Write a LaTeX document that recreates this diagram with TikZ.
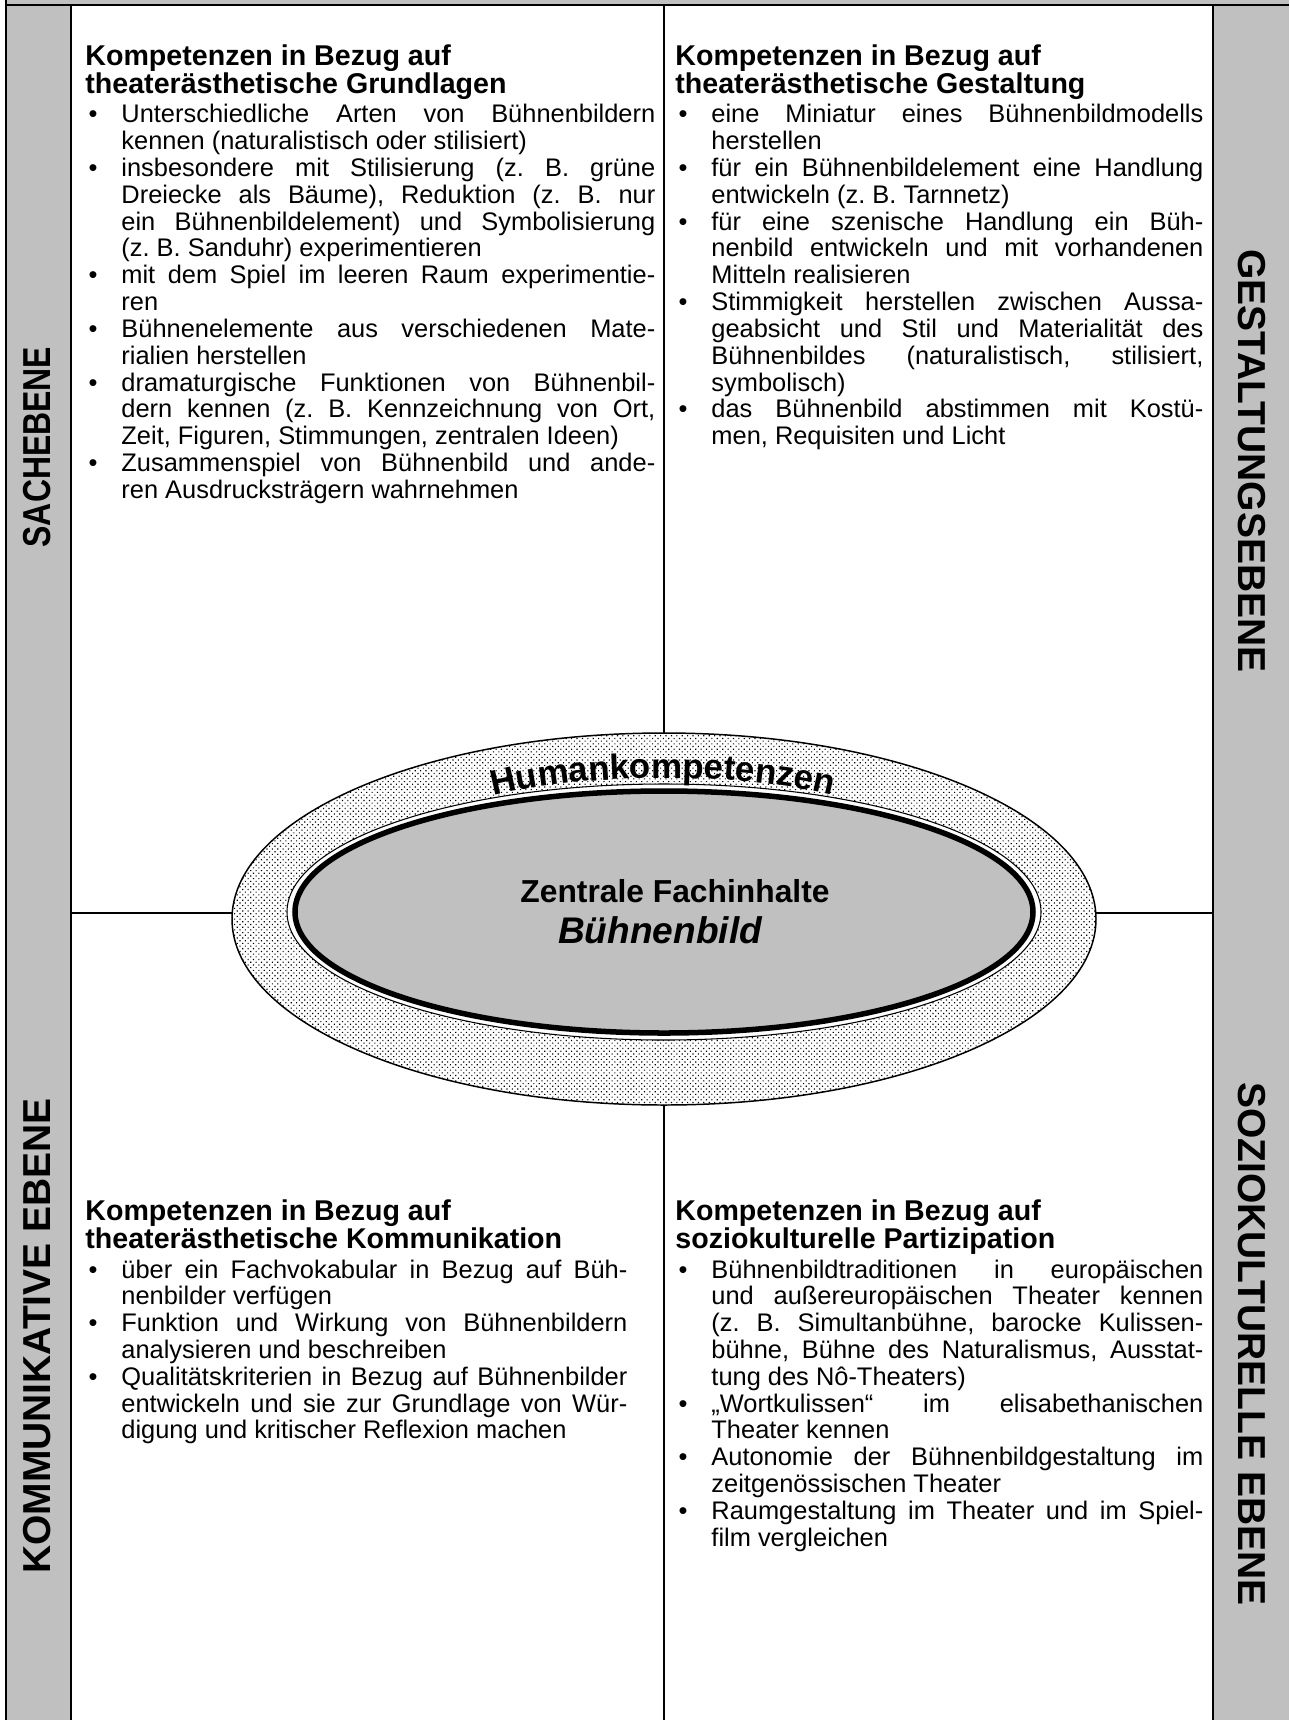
\documentclass[tikz,border=0pt]{standalone}
\usepackage{fontspec}
\setmainfont{Liberation Sans}
\usepackage{xcolor}
\usepackage{tikz}
\usetikzlibrary{positioning}
\usetikzlibrary{patterns.meta,decorations.text}
\definecolor{zellgrau}{RGB}{192,192,192}
\setlength{\parindent}{0pt}
\frenchspacing
\newlength{\einzug}\setlength{\einzug}{17pt}
\newcommand{\pkt}[1]{\par\noindent\hangindent=\einzug\hangafter=1%
  \makebox[\einzug][l]{\hspace{1.5pt}\textbullet}#1\par}
\newcommand{\kopf}[2]{{\fontsize{13.5}{13.45}\selectfont\bfseries #1\\#2\par}\vspace{1.2pt}}
\tikzset{
  feld/.style = {anchor=north west, inner sep=0pt, align=justify,
    font=\fontsize{12}{12.65}\selectfont},% Kompetenzfeld
  ebene/.style = {inner sep=0pt, font=\fontsize{18.4}{18.4}\selectfont\bfseries},
  ebene_l/.style = {ebene, rotate=90},% Ebene, linke Spalte
  ebene_r/.style = {ebene, rotate=-90},% Ebene, rechte Spalte
  rahmen/.style = {line width=1pt},
  trenn/.style = {line width=0.8pt},
  ring/.style = {draw=black, line width=0.7pt, preaction={fill=white},
    pattern={Dots[radius=0.38pt, distance=1.8pt, angle=45]}},% Humankompetenzen
  kern_rand/.style = {draw=black, line width=0.5pt, fill=white},
  kern/.style = {draw=black, line width=2.6pt, fill=zellgrau}% Fachinhalte
}

\begin{document}
\begin{tikzpicture}[x=0.472pt, y=0.472pt]
\useasboundingbox (0,0) rectangle (1289,-1720);

% Tabelle
\fill[zellgrau] (6,0) rectangle (1289,-5);
\fill[zellgrau] (6,-5) rectangle (71,-1720);
\fill[zellgrau] (1213,-5) rectangle (1289,-1720);
\draw[rahmen] (6,0) -- (6,-1720);
\draw[rahmen] (6,-5) -- (1289,-5);
\draw[trenn] (71,-5) -- (71,-1720);
\draw[trenn] (1213,-5) -- (1213,-1720);
\draw[trenn] (664,-5) -- (664,-1720);
\draw[trenn] (71,-913) -- (1213,-913);

\node[ebene_l] (sache) at (37,-447) {\scalebox{0.82}[1]{SACHEBENE}};
\node[ebene_l] (kommunikation) at (37,-1336) {KOMMUNIKATIVE EBENE};
\node[ebene_r] (gestaltung) at (1252,-461) {GESTALTUNGSEBENE};
\node[ebene_r] (sozio) at (1252,-1344) {SOZIOKULTURELLE EBENE};

\node[feld, text width=269pt] (grundlagen) at (85,-44) {%
  \kopf{Kompetenzen in Bezug auf}{theaterästhetische Grundlagen}
  \pkt{Unterschiedliche Arten von Bühnenbildern\linebreak kennen (naturalistisch oder stilisiert)}
  \pkt{insbesondere mit Stilisierung (z. B. grüne\linebreak Dreiecke als Bäume), Reduktion (z. B. nur\linebreak ein Bühnenbildelement) und Symbolisierung\linebreak (z. B. Sanduhr) experimentieren}
  \pkt{mit dem Spiel im leeren Raum experimentie-\linebreak ren}
  \pkt{Bühnenelemente aus verschiedenen Mate-\linebreak rialien herstellen}
  \pkt{dramaturgische Funktionen von Bühnenbil-\linebreak dern kennen (z. B. Kennzeichnung von Ort,\linebreak Zeit, Figuren, Stimmungen, zentralen Ideen)}
  \pkt{Zusammenspiel von Bühnenbild und ande-\linebreak ren Ausdrucksträgern wahrnehmen}};

\node[feld, text width=249.2pt] (gestaltfeld) at (675,-44) {%
  \kopf{Kompetenzen in Bezug auf}{theaterästhetische Gestaltung}
  \pkt{eine Miniatur eines Bühnenbildmodells\linebreak herstellen}
  \pkt{für ein Bühnenbildelement eine Handlung\linebreak entwickeln (z. B. Tarnnetz)}
  \pkt{für eine szenische Handlung ein Büh-\linebreak nenbild entwickeln und mit vorhandenen\linebreak Mitteln realisieren}
  \pkt{Stimmigkeit herstellen zwischen Aussa-\linebreak geabsicht und Stil und Materialität des\linebreak Bühnenbildes (naturalistisch, stilisiert,\linebreak symbolisch)}
  \pkt{das Bühnenbild abstimmen mit Kostü-\linebreak men, Requisiten und Licht}};

\node[feld, text width=255.8pt] (kommfeld) at (85,-1199) {%
  \kopf{Kompetenzen in Bezug auf}{theaterästhetische Kommunikation}
  \pkt{über ein Fachvokabular in Bezug auf Büh-\linebreak nenbilder verfügen}
  \pkt{Funktion und Wirkung von Bühnenbildern\linebreak analysieren und beschreiben}
  \pkt{Qualitätskriterien in Bezug auf Bühnenbilder\linebreak entwickeln und sie zur Grundlage von Wür-\linebreak digung und kritischer Reflexion machen}};

\node[feld, text width=249.2pt] (partizipation) at (675,-1199) {%
  \kopf{Kompetenzen in Bezug auf}{soziokulturelle Partizipation}
  \pkt{Bühnenbildtraditionen in europäischen\linebreak und außereuropäischen Theater kennen\linebreak (z. B. Simultanbühne, barocke Kulissen-\linebreak bühne, Bühne des Naturalismus, Ausstat-\linebreak tung des Nô-Theaters)}
  \pkt{„Wortkulissen“ im elisabethanischen\linebreak Theater kennen}
  \pkt{Autonomie der Bühnenbildgestaltung im\linebreak zeitgenössischen Theater}
  \pkt{Raumgestaltung im Theater und im Spiel-\linebreak film vergleichen}};

% Ellipsen in der Mitte
\coordinate (mitte) at (664,-919);
\coordinate (kernmitte) at (664,-912);
\draw[ring] (mitte) ellipse [x radius=432, y radius=186];
\draw[kern_rand] (kernmitte) ellipse [x radius=377, y radius=128];
\draw[kern] (kernmitte) ellipse [x radius=369, y radius=121];
\path[decorate, decoration={text along path, text align=center,
    text={|\fontsize{16.5}{16.5}\selectfont\bfseries|Humankompetenzen}}]
  (480,-800) .. controls (572,-771) and (752,-771) .. (846,-799);

\node[font=\fontsize{15}{15}\selectfont\bfseries] (fach) at (675,-891) {Zentrale Fachinhalte};
\node[font=\fontsize{17.5}{17.5}\selectfont\bfseries\itshape] (bild) at (660,-930) {Bühnenbild};
\end{tikzpicture}
\end{document}
